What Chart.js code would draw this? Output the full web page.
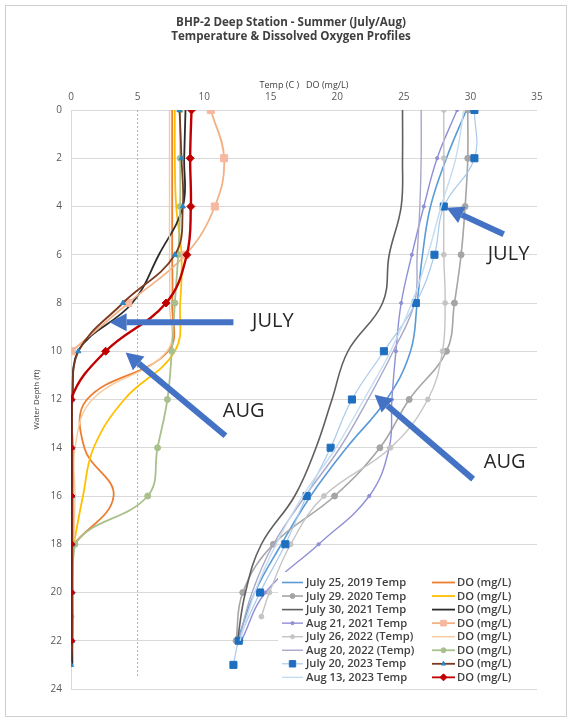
<!DOCTYPE html>
<html>
<head>
<meta charset="utf-8">
<script src="https://cdn.jsdelivr.net/npm/chart.js@4/dist/chart.umd.min.js"></script>
<style>
  html, body { margin: 0; padding: 0; background: #fff; }
  canvas { display: block; }
</style>
</head>
<body>
<canvas id="profiles" width="572" height="721"></canvas>
<script>
// ---- Sampling depths (ft) ----
const depthStd  = [0, 2, 4, 6, 8, 10, 12, 14, 16, 18, 20, 22];
const depthTo23 = [0, 2, 4, 6, 8, 10, 12, 14, 16, 18, 20, 22, 23];
const depthTo21 = [0, 2, 4, 6, 8, 10, 12, 14, 16, 18, 20, 21];
const depthTo18 = [0, 2, 4, 6, 8, 10, 12, 14, 16, 18];
const depthTo10 = [0, 2, 4, 6, 8, 10];
const depthDOAug2022 = [0, 2, 4, 6, 8, 10, 12, 14, 16, 18, 21];

// ---- Water temperature (C) ----
const tempJul2019 = [29.7, 28.2, 27.0, 26.4, 26.0, 25.5, 23.7, 20.7, 18.0, 15.8, 13.8, 12.5];
const tempJul2020 = [29.8, 29.8, 29.6, 29.3, 28.8, 28.2, 25.4, 23.2, 19.8, 15.2, 12.9, 12.4];
const tempJul2021 = [24.9, 24.9, 24.8, 23.9, 23.4, 20.8, 19.6, 18.4, 16.8, 14.3, 13.1, 12.5];
const tempAug2021 = [29.0, 27.5, 26.5, 25.6, 24.8, 24.4, 24.1, 23.9, 22.4, 18.6, 14.6, 12.8];
const tempJul2022 = [28.0, 28.0, 28.0, 28.0, 28.1, 27.9, 26.8, 24.0, 19.0, 16.5, 14.9, 14.3];
const tempAug2022 = [26.3, 26.3, 26.2, 26.0, 25.8, 24.2, 22.3, 20.2, 17.6, 15.2, 13.6, 12.6];
const tempJul2023 = [30.3, 30.3, 28.0, 27.3, 25.9, 23.5, 21.1, 19.5, 17.7, 16.1, 14.2, 12.6, 12.2];
const tempAug2023 = [29.5, 28.9, 27.8, 26.8, 25.6, 24.0, 22.0, 19.9, 17.4, 15.4, 13.8, 12.7];

// ---- Dissolved oxygen (mg/L) ----
const doJul2019 = [7.6, 7.6, 7.6, 7.6, 7.6, 7.3, 1.2, 1.0, 3.2, 0.2];
const doJul2020 = [7.8, 7.8, 7.9, 8.3, 8.2, 7.8, 4.0, 1.7, 0.9, 0.2];
const doJul2021 = [8.6, 8.5, 8.4, 6.6, 4.6, 0.5, 0.1, 0.1, 0.1, 0.1, 0.1, 0.1, 0.1];
const doAug2021 = [10.5, 11.5, 10.8, 8.6, 4.3, 0.05];
const doJul2022 = [7.4, 7.4, 7.4, 7.4, 7.4, 7.2, 1.6, 0.3, 0.3, 0.2];
const doAug2022 = [8.2, 8.2, 8.2, 8.05, 7.8, 7.57, 7.24, 6.5, 5.76, 0.3, 0];
const doJul2023 = [8.15, 8.3, 8.4, 7.8, 3.9, 0.55, 0.1, 0.1, 0.1, 0.1, 0.1, 0.1, 0];
const doAug2023 = [9.05, 8.95, 9.0, 8.7, 7.14, 2.6, 0, 0, 0, 0, 0, 0];

// 5 mg/L reference line
const doRefValue = [5, 5];
const doRefDepth = [0, 23.5];

// ---- Labels ----
const tempLabels = [
  'July 25, 2019 Temp', 'July 29. 2020 Temp', 'July 30, 2021 Temp', 'Aug 21, 2021 Temp',
  'July 26, 2022 (Temp)', 'Aug 20, 2022 (Temp)', 'July 20, 2023 Temp', 'Aug 13, 2023 Temp'
];
const doLabel = 'DO (mg/L)';
const chartTitle = ['BHP-2 Deep Station - Summer (July/Aug)', 'Temperature & Dissolved Oxygen Profiles'];
const axisTitleX = 'Temp (C )   DO (mg/L)';
const axisTitleY = 'Water Depth (ft)';
const xTicks = [0, 5, 10, 15, 20, 25, 30, 35];
const yTicks = [0, 2, 4, 6, 8, 10, 12, 14, 16, 18, 20, 22, 24];

// ---- Callout labels ----
const callouts = [
  { text: 'JULY', tail: [12.2, 8.8],  tip: [2.9, 8.8],   at: [13.6, 8.75] },
  { text: 'AUG',  tail: [11.6, 13.5], tip: [4.1, 10.05], at: [11.4, 12.5] },
  { text: 'JULY', tail: [32.5, 5.15], tip: [28.2, 4.05], at: [31.3, 6.0] },
  { text: 'AUG',  tail: [30.2, 15.3], tip: [22.8, 11.8], at: [31.0, 14.6] }
];

const pts = (depths, vals) => depths.map((d, i) => ({ x: vals[i], y: d }));

// Temperature series: drawing order = legend order
const tempSeries = [
  { data: pts(depthStd, tempJul2019), color: '#5b9bd5', width: 1.6 },
  { data: pts(depthStd, tempJul2020), color: '#a5a5a5', width: 1.6, point: 'circle', r: 3, lr: 2.5, pcolor: '#a5a5a5' },
  { data: pts(depthStd, tempJul2021), color: '#5f5f5f', width: 1.6 },
  { data: pts(depthStd, tempAug2021), color: '#8f8fd6', width: 1.4, point: 'circle', r: 1.6, lr: 1.6, pcolor: '#8f8fd6' },
  { data: pts(depthTo21, tempJul2022), color: '#c4c4c4', width: 1.4, point: 'circle', r: 2.4, lr: 2, pcolor: '#c4c4c4' },
  { data: pts(depthStd, tempAug2022), color: '#a8a8c8', width: 1.4 },
  { data: pts(depthTo23, tempJul2023), color: '#a9c9ea', width: 1.2, point: 'rect', r: 5, lr: 4.5, pcolor: '#1f6fc0' },
  { data: pts(depthStd, tempAug2023), color: '#c5dcf1', width: 1.4 }
];
const doSeries = [
  { data: pts(depthTo18, doJul2019), color: '#ed7d31', width: 1.8 },
  { data: pts(depthTo18, doJul2020), color: '#ffc000', width: 1.8 },
  { data: pts(depthTo23, doJul2021), color: '#2b2b2b', width: 1.8 },
  { data: pts(depthTo10, doAug2021), color: '#f4b183', width: 1.8, point: 'rect', r: 5, lr: 4, pcolor: '#f6b8a0' },
  { data: pts(depthTo18, doJul2022), color: '#f8c99a', width: 1.4 },
  { data: pts(depthDOAug2022, doAug2022), color: '#a9c08d', width: 1.8, point: 'circle', r: 3, lr: 2.5, pcolor: '#a9c08d' },
  { data: pts(depthTo23, doJul2023), color: '#7a3a22', width: 1.8, point: 'triangle', r: 3, lr: 2.5, pcolor: '#2e86c1' },
  { data: pts(depthStd, doAug2023), color: '#c00000', width: 2.4, point: 'rectRot', r: 4, lr: 3.5, pcolor: '#c00000' }
];

function toDataset(s, label, drawIndex, total) {
  return {
    label: label,
    data: s.data,
    showLine: true,
    tension: 0.4,
    borderColor: s.color,
    borderWidth: s.width,
    backgroundColor: s.pcolor || s.color,
    pointStyle: s.point || 'circle',
    pointRadius: s.point ? s.r : 0,
    pointBorderColor: s.pcolor || s.color,
    pointBackgroundColor: s.pcolor || s.color,
    pointBorderWidth: 1,
    order: total - drawIndex
  };
}

const seqAll = [];
seqAll.push({ ds: {
  label: '5 mg/L', data: pts(doRefDepth, doRefValue), showLine: true, borderColor: '#c9a3b6',
  borderWidth: 1, borderDash: [2, 2], pointRadius: 0 } });
tempSeries.forEach((s, i) => seqAll.push({ s, label: tempLabels[i] }));
doSeries.forEach((s) => seqAll.push({ s, label: doLabel }));
const total = seqAll.length;
const datasets = seqAll.map((e, i) => {
  if (e.ds) { e.ds.order = total - i; return e.ds; }
  return toDataset(e.s, e.label, i, total);
});

const FONT = 'Open Sans, Liberation Sans, Arial, sans-serif';

// Page frame and title
const framePlugin = {
  id: 'frame',
  beforeDraw(chart) {
    const c = chart.ctx;
    c.save();
    c.fillStyle = '#fff';
    c.fillRect(0, 0, chart.width, chart.height);
    c.strokeStyle = '#cfcfcf';
    c.lineWidth = 1;
    c.strokeRect(5.5, 5.5, 561, 711);
    c.restore();
  },
  afterDraw(chart) {
    const c = chart.ctx;
    c.save();
    c.fillStyle = '#404040';
    c.font = 'bold 11.6px ' + FONT;
    c.textAlign = 'center';
    c.textBaseline = 'alphabetic';
    c.fillText(chartTitle[0], 291, 26);
    c.fillText(chartTitle[1], 291, 40);
    c.restore();
  }
};

// Arrows with JULY / AUG callouts
function arrow(c, x1, y1, x2, y2) {
  const ang = Math.atan2(y2 - y1, x2 - x1);
  const headLen = 17, headHalf = 9;
  const bx = x2 - headLen * Math.cos(ang), by = y2 - headLen * Math.sin(ang);
  c.beginPath();
  c.moveTo(x1, y1);
  c.lineTo(bx, by);
  c.lineWidth = 6;
  c.lineCap = 'butt';
  c.stroke();
  c.beginPath();
  c.moveTo(x2, y2);
  c.lineTo(bx + headHalf * Math.sin(ang), by - headHalf * Math.cos(ang));
  c.lineTo(bx - headHalf * Math.sin(ang), by + headHalf * Math.cos(ang));
  c.closePath();
  c.fill();
}
const calloutPlugin = {
  id: 'callouts',
  afterDatasetsDraw(chart) {
    const c = chart.ctx, xs = chart.scales.x, ys = chart.scales.y;
    c.save();
    c.strokeStyle = '#4472c4';
    c.fillStyle = '#4472c4';
    callouts.forEach(a => {
      arrow(c, xs.getPixelForValue(a.tail[0]), ys.getPixelForValue(a.tail[1]),
               xs.getPixelForValue(a.tip[0]), ys.getPixelForValue(a.tip[1]));
    });
    c.fillStyle = '#262626';
    c.font = '20px ' + FONT;
    c.textAlign = 'left';
    c.textBaseline = 'middle';
    callouts.forEach(a => {
      c.fillText(a.text, xs.getPixelForValue(a.at[0]), ys.getPixelForValue(a.at[1]));
    });
    c.restore();
  }
};

// Two-column legend in the lower right of the plot
const legendPlugin = {
  id: 'twoColLegend',
  afterDraw(chart) {
    const c = chart.ctx;
    const area = chart.chartArea;
    const boxL = 278, boxT = 572, boxR = area.right, boxB = 684;
    c.save();
    c.fillStyle = '#fff';
    c.fillRect(boxL, boxT, boxR - boxL, boxB - boxT);
    const rowH = 13.55, row0 = 582.5;
    const cols = [
      { list: tempSeries, labels: tempLabels, x0: 282, x1: 303, tx: 306 },
      { list: doSeries, labels: doSeries.map(() => doLabel), x0: 432, x1: 455, tx: 457 }
    ];
    cols.forEach(col => {
      col.list.forEach((s, i) => {
        const y = row0 + i * rowH;
        c.strokeStyle = s.color;
        c.lineWidth = Math.min(s.width, 1.8);
        c.beginPath();
        c.moveTo(col.x0, y);
        c.lineTo(col.x1, y);
        c.stroke();
        if (s.point) {
          c.fillStyle = s.pcolor;
          c.strokeStyle = s.pcolor;
          c.lineWidth = 1;
          Chart.helpers.drawPoint(c, {
            pointStyle: s.point, radius: s.lr, borderWidth: 1, rotation: 0
          }, (col.x0 + col.x1) / 2, y);
        }
        c.fillStyle = '#404040';
        c.font = '600 11.2px ' + FONT;
        c.textAlign = 'left';
        c.textBaseline = 'middle';
        c.fillText(col.labels[i], col.tx, y + 0.5);
      });
    });
    c.restore();
  }
};

new Chart(document.getElementById('profiles').getContext('2d'), {
  type: 'scatter',
  data: { datasets },
  options: {
    responsive: false,
    animation: false,
    layout: { padding: { top: 80, left: 8, right: 35, bottom: 32 } },
    plugins: { legend: { display: false }, tooltip: { enabled: false }, title: { display: false } },
    scales: {
      x: {
        type: 'linear', position: 'top', min: 0, max: 35,
        afterBuildTicks(s) { s.ticks = xTicks.map(v => ({ value: v })); },
        afterFit(s) { s.height = 30; },
        ticks: { padding: 7, color: '#595959', font: { family: FONT, size: 10 } },
        grid: { display: false, drawTicks: false },
        border: { display: false },
        title: { display: true, text: axisTitleX, color: '#404040', padding: { top: 0, bottom: 0 },
                 font: { family: FONT, size: 9 } }
      },
      y: {
        type: 'linear', reverse: true, min: 0, max: 24,
        afterBuildTicks(s) { s.ticks = yTicks.map(v => ({ value: v })); },
        afterFit(s) { s.width = 63; },
        ticks: { padding: 9, color: '#595959', font: { family: FONT, size: 10 } },
        grid: { color: '#d9d9d9', drawTicks: false },
        border: { display: true, color: '#d9d9d9' },
        title: { display: true, text: axisTitleY, color: '#404040', padding: { top: 24, bottom: 0 },
                 font: { family: FONT, size: 8 } }
      }
    }
  },
  plugins: [framePlugin, calloutPlugin, legendPlugin]
});
</script>
</body>
</html>
